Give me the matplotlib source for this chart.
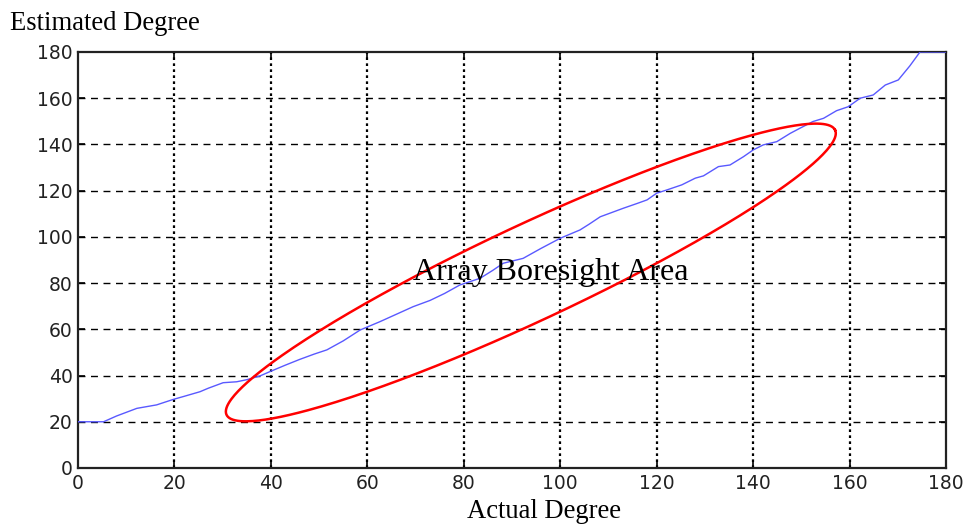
import numpy as np
import matplotlib
matplotlib.use("Agg")
import matplotlib.pyplot as plt

# Estimated vs. actual angle of arrival (degrees)
actual_deg = [0, 5.3, 8, 12.2, 16.3, 19.8, 22, 25.3, 27, 30.1,
              32.9, 35, 37.7, 39.8, 43, 46, 49, 51.6, 55, 58.5,
              62.6, 66, 69.5, 73, 76, 79.2, 83.4, 86, 88.2, 92.3,
              96, 100, 104.1, 106, 108.3, 113.1, 116, 118, 120, 122.1,
              125.2, 128, 129.7, 132.8, 135.2, 138, 140, 142.1, 144.9, 147.7,
              149.7, 152.4, 154.6, 157.3, 159.7, 162.2, 164.9, 167.4, 170.1, 172.5,
              174.6, 180]
estimated_deg = [20, 20, 22.5, 25.8, 27.3, 29.7, 31, 33, 34.5, 36.9,
                 37.3, 38.2, 39.8, 41.7, 44.5, 47, 49.3, 51.1, 55, 59.7,
                 63.3, 66.5, 69.8, 72.5, 75.5, 79.2, 82.1, 85.5, 88.6, 90.7,
                 95, 99.4, 103, 105.5, 108.7, 112.4, 114.5, 116, 118.9, 120.3,
                 122.5, 125.4, 126.4, 130.4, 131.1, 134.7, 137.6, 139.8, 141.2, 144.8,
                 147, 149.9, 151.3, 154.6, 156.3, 160, 161.4, 165.7, 167.9, 174,
                 180, 180]

x_ticks = [0, 20, 40, 60, 80, 100, 120, 140, 160, 180]
y_ticks = [0, 20, 40, 60, 80, 100, 120, 140, 160, 180]

# Boresight region outline: centre and conjugate semi-axes in data units
region_center = [93.9, 84.6]
region_axis_u = [63.1, 61.6]
region_axis_v = [-4.22, 18.8]
region_label = "Array Boresight Area"

fig = plt.figure(figsize=(9.69, 5.24), dpi=100)
ax = fig.add_axes([0.0805, 0.1069, 0.8958, 0.7939])

ax.plot(actual_deg, estimated_deg, color=(0.35, 0.35, 1.0), lw=1.0, zorder=3)

t = np.linspace(0, 2 * np.pi, 400)
ex = region_center[0] + region_axis_u[0] * np.cos(t) + region_axis_v[0] * np.sin(t)
ey = region_center[1] + region_axis_u[1] * np.cos(t) + region_axis_v[1] * np.sin(t)
ax.plot(ex, ey, color="red", lw=1.8, zorder=4)

ax.text(98.0, 84.5, region_label, family="Liberation Serif", fontsize=23,
        ha="center", va="center", zorder=5)

ax.set_xlim(0, 180)
ax.set_ylim(0, 180)
ax.set_xticks(x_ticks)
ax.set_yticks(y_ticks)

# Grid: dotted verticals, dashed horizontals
for xv in x_ticks[1:-1]:
    ax.axvline(xv, color="black", lw=1.6, ls=(0, (1.2, 1.5)), zorder=1)
for yv in y_ticks[1:-1]:
    ax.axhline(yv, color="black", lw=1.0, ls=(0, (5, 4)), zorder=1)

ax.tick_params(direction="in", length=5, width=1.2, top=True, right=True,
               labelsize=13.5, pad=4)
for lab in ax.get_xticklabels() + ax.get_yticklabels():
    lab.set_family("DejaVu Sans")
    lab.set_color("#222222")
for sp in ax.spines.values():
    sp.set_linewidth(1.6)
    sp.set_color("#222222")

fig.text(10 / 969, 1 - 24 / 524, "Estimated Degree", family="Liberation Serif",
         fontsize=19.2, ha="left", va="center")
fig.text(544 / 969, 1 - 511 / 524, "Actual Degree", family="Liberation Serif",
         fontsize=19.2, ha="center", va="center")

fig.savefig("out.png", dpi=100, facecolor="white")
